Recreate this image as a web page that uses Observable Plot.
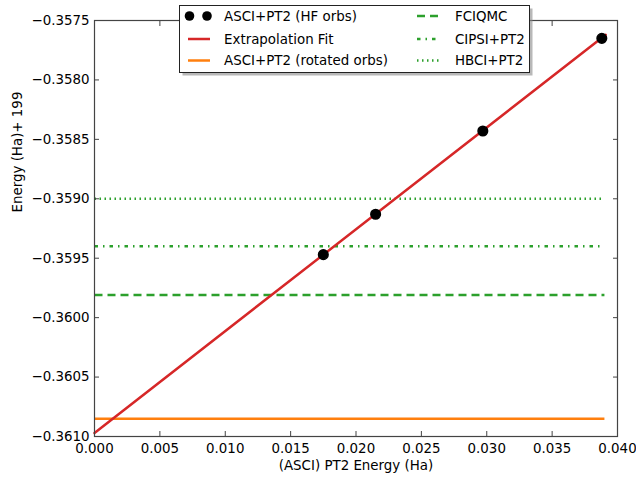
<!DOCTYPE html>
<html>
<head>
<meta charset="utf-8">
<script src="https://cdn.jsdelivr.net/npm/d3@7"></script>
<script src="https://cdn.jsdelivr.net/npm/@observablehq/plot@0.6"></script>
<style>
  html, body { margin: 0; padding: 0; background: white; }
</style>
</head>
<body>
<div id="chart"></div>
<script>
// ASCI+PT2 (HF orbs) data points
const pt2Energy = [0.0175, 0.0215, 0.0297, 0.0388];
const totalEnergy = [-0.35947, -0.35913, -0.35843, -0.35765];

// Extrapolation fit endpoints
const fitX = [0, 0.0391];
const fitY = [-0.36097, -0.35762];

// Reference horizontal lines
const refNames = ["ASCI+PT2 (rotated orbs)", "FCIQMC", "CIPSI+PT2", "HBCI+PT2"];
const refValues = [-0.36085, -0.35981, -0.35940, -0.35900];
const refXRange = [0, 0.039];

// Axis ticks
const xTicks = [0, 0.005, 0.010, 0.015, 0.020, 0.025, 0.030, 0.035, 0.040];
const yTicks = [-0.3575, -0.3580, -0.3585, -0.3590, -0.3595, -0.3600, -0.3605, -0.3610];

const colors = {red: "#d62728", orange: "#ff7f0e", green: "#2ca02c"};
const refStyles = [
  {stroke: colors.orange, dash: null},
  {stroke: colors.green, dash: "8,5"},
  {stroke: colors.green, dash: "3.5,5,1.5,5"},
  {stroke: colors.green, dash: "1.5,3.5"}
];

const FS = 13.4;

const points = pt2Energy.map((x, i) => ({x, y: totalEnergy[i]}));
const fit = fitX.map((x, i) => ({x, y: fitY[i]}));
const refLines = refValues.flatMap((v, i) => refXRange.map(x => ({x, y: v, name: refNames[i], i})));

const refMarks = refStyles.map((s, i) =>
  Plot.line(refLines.filter(d => d.i === i), {
    x: "x", y: "y", stroke: s.stroke, strokeWidth: 2.5,
    strokeDasharray: s.dash, strokeLinecap: "butt"
  })
);

const fmtX = d3.format(".3f");
const fmtY = d3.format(".4f");

const plot = Plot.plot({
  width: 636,
  height: 477,
  marginLeft: 94,
  marginRight: 19,
  marginTop: 20,
  marginBottom: 41,
  style: {fontFamily: "DejaVu Sans", fontSize: FS + "px", color: "black", background: "white"},
  x: {domain: [0, 0.04]},
  y: {domain: [-0.3610, -0.3575]},
  marks: [
    ...refMarks,
    Plot.line(fit, {x: "x", y: "y", stroke: colors.red, strokeWidth: 2.5}),
    Plot.dot(points, {x: "x", y: "y", r: 4.8, fill: "black", stroke: "black"}),
    Plot.axisX({anchor: "bottom", ticks: xTicks, tickFormat: fmtX, tickSize: -5, tickPadding: 12, label: null, stroke: "#444", fontSize: FS}),
    Plot.axisX({anchor: "top", ticks: xTicks, tickFormat: () => "", tickSize: -5, label: null, stroke: "#444"}),
    Plot.axisY({anchor: "left", ticks: yTicks, tickFormat: fmtY, tickSize: -5, tickPadding: 10, label: null, stroke: "#444", fontSize: FS}),
    Plot.axisY({anchor: "right", ticks: yTicks, tickFormat: () => "", tickSize: -5, label: null, stroke: "#444"}),
    Plot.frame({stroke: "#444", strokeWidth: 1.2}),
    Plot.text(["(ASCI) PT2 Energy (Ha)"], {frameAnchor: "bottom", dy: 33, fontSize: FS, fill: "black"}),
    Plot.text(["Energy (Ha)+ 199"], {frameAnchor: "left", dx: -77, dy: -16, rotate: -90, fontSize: FS, fill: "black"})
  ]
});

document.getElementById("chart").appendChild(plot);

// Legend (drawn into the SVG)
const svg = d3.select(plot);
const lg = svg.append("g")
  .attr("font-family", "DejaVu Sans")
  .attr("font-size", FS)
  .attr("text-anchor", "start");
const bx = 179.5, by = 5.5, bw = 350, bh = 67;
lg.append("rect").attr("x", bx + 3).attr("y", by + 3).attr("width", bw).attr("height", bh)
  .attr("fill", "#888").attr("fill-opacity", 0.6);
lg.append("rect").attr("x", bx).attr("y", by).attr("width", bw).attr("height", bh)
  .attr("fill", "white").attr("stroke", "#222").attr("stroke-width", 1);

const rows = [16, 39, 60.5];
const legendItems = [
  {label: "ASCI+PT2 (HF orbs)", col: 0, row: 0, type: "dots"},
  {label: "Extrapolation Fit", col: 0, row: 1, type: "line", stroke: colors.red, dash: null},
  {label: refNames[0], col: 0, row: 2, type: "line", stroke: colors.orange, dash: null},
  {label: refNames[1], col: 1, row: 0, type: "line", stroke: colors.green, dash: refStyles[1].dash},
  {label: refNames[2], col: 1, row: 1, type: "line", stroke: colors.green, dash: refStyles[2].dash},
  {label: refNames[3], col: 1, row: 2, type: "line", stroke: colors.green, dash: refStyles[3].dash}
];
const colX = [{m0: 188, m1: 210, t: 224}, {m0: 417, m1: 440, t: 455}];
legendItems.forEach(it => {
  const c = colX[it.col], y = rows[it.row];
  if (it.type === "dots") {
    lg.append("circle").attr("cx", c.m0 + 1.5).attr("cy", y).attr("r", 4.8).attr("fill", "black");
    lg.append("circle").attr("cx", c.m1 - 3).attr("cy", y).attr("r", 4.8).attr("fill", "black");
  } else {
    lg.append("line").attr("x1", c.m0).attr("x2", c.m1).attr("y1", y).attr("y2", y)
      .attr("stroke", it.stroke).attr("stroke-width", 2.5)
      .attr("stroke-dasharray", it.dash);
  }
  lg.append("text").attr("x", c.t).attr("y", y).attr("dy", "0.35em")
    .attr("text-anchor", "start").attr("fill", "black").text(it.label);
});
</script>
</body>
</html>
